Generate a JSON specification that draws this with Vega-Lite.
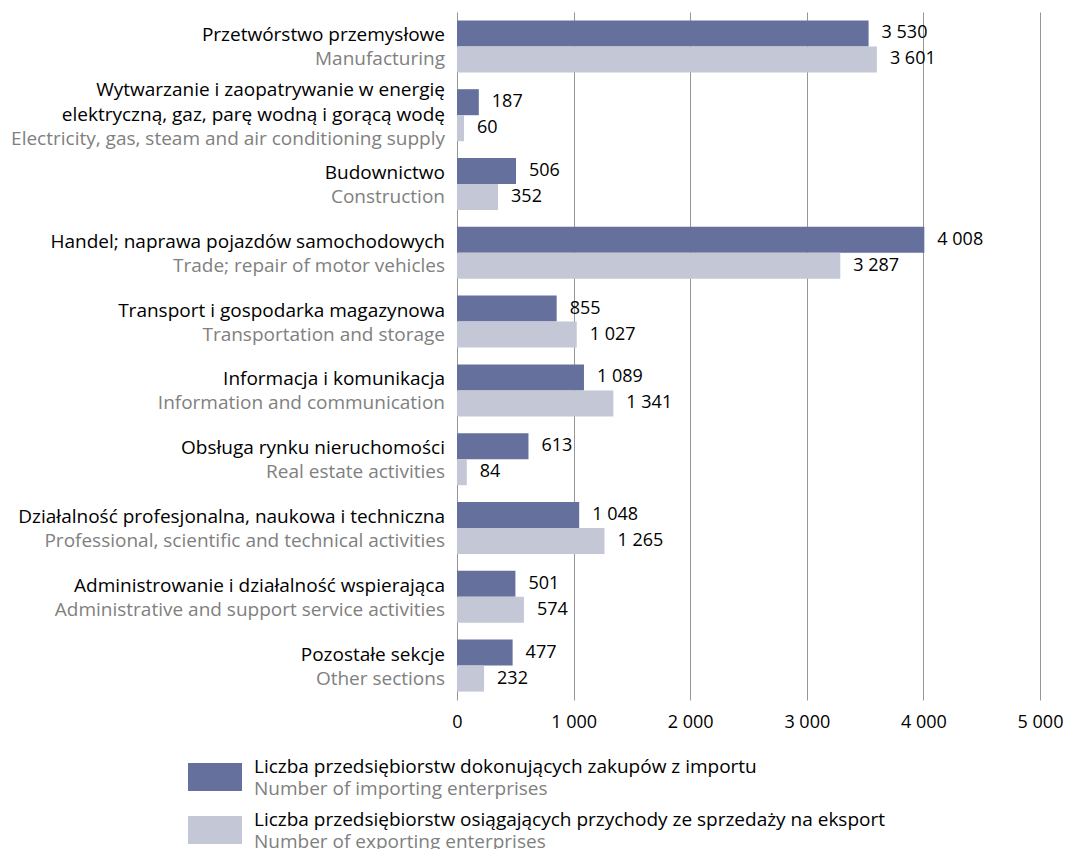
{
  "$schema": "https://vega.github.io/schema/vega-lite/v6.json",
  "width": 583,
  "height": 688,
  "autosize": {"type": "none"},
  "padding": {"left": 457, "top": 12, "right": 27, "bottom": 149},
  "config": {
    "view": {"stroke": null},
    "font": "Open Sans",
    "legend": {"symbolBaseFillColor": "transparent", "symbolBaseStrokeColor": "transparent"},
    "axisX": {
      "grid": true,
      "gridColor": "#969696",
      "domain": false,
      "ticks": false,
      "labelFont": "Open Sans",
      "labelFontSize": 18,
      "labelColor": "#000000",
      "labelPadding": 13,
      "labelFlush": false
    },
    "locale": {"number": {"decimal": ",", "thousands": " ", "grouping": [3], "currency": ["", " zł"]}}
  },
  "data": {
    "values": [
      {"cat": "C", "pl": "Przetwórstwo przemysłowe", "en": "Manufacturing", "series": "Liczba przedsiębiorstw dokonujących zakupów z importu", "series_en": "Number of importing enterprises", "value": 3530},
      {"cat": "C", "pl": "Przetwórstwo przemysłowe", "en": "Manufacturing", "series": "Liczba przedsiębiorstw osiągających przychody ze sprzedaży na eksport", "series_en": "Number of exporting enterprises", "value": 3601},
      {"cat": "D", "pl": "Wytwarzanie i zaopatrywanie w energię\nelektryczną, gaz, parę wodną i gorącą wodę", "en": "Electricity, gas, steam and air conditioning supply", "series": "Liczba przedsiębiorstw dokonujących zakupów z importu", "series_en": "Number of importing enterprises", "value": 187},
      {"cat": "D", "pl": "Wytwarzanie i zaopatrywanie w energię\nelektryczną, gaz, parę wodną i gorącą wodę", "en": "Electricity, gas, steam and air conditioning supply", "series": "Liczba przedsiębiorstw osiągających przychody ze sprzedaży na eksport", "series_en": "Number of exporting enterprises", "value": 60},
      {"cat": "F", "pl": "Budownictwo", "en": "Construction", "series": "Liczba przedsiębiorstw dokonujących zakupów z importu", "series_en": "Number of importing enterprises", "value": 506},
      {"cat": "F", "pl": "Budownictwo", "en": "Construction", "series": "Liczba przedsiębiorstw osiągających przychody ze sprzedaży na eksport", "series_en": "Number of exporting enterprises", "value": 352},
      {"cat": "G", "pl": "Handel; naprawa pojazdów samochodowych", "en": "Trade; repair of motor vehicles", "series": "Liczba przedsiębiorstw dokonujących zakupów z importu", "series_en": "Number of importing enterprises", "value": 4008},
      {"cat": "G", "pl": "Handel; naprawa pojazdów samochodowych", "en": "Trade; repair of motor vehicles", "series": "Liczba przedsiębiorstw osiągających przychody ze sprzedaży na eksport", "series_en": "Number of exporting enterprises", "value": 3287},
      {"cat": "H", "pl": "Transport i gospodarka magazynowa", "en": "Transportation and storage", "series": "Liczba przedsiębiorstw dokonujących zakupów z importu", "series_en": "Number of importing enterprises", "value": 855},
      {"cat": "H", "pl": "Transport i gospodarka magazynowa", "en": "Transportation and storage", "series": "Liczba przedsiębiorstw osiągających przychody ze sprzedaży na eksport", "series_en": "Number of exporting enterprises", "value": 1027},
      {"cat": "J", "pl": "Informacja i komunikacja", "en": "Information and communication", "series": "Liczba przedsiębiorstw dokonujących zakupów z importu", "series_en": "Number of importing enterprises", "value": 1089},
      {"cat": "J", "pl": "Informacja i komunikacja", "en": "Information and communication", "series": "Liczba przedsiębiorstw osiągających przychody ze sprzedaży na eksport", "series_en": "Number of exporting enterprises", "value": 1341},
      {"cat": "L", "pl": "Obsługa rynku nieruchomości", "en": "Real estate activities", "series": "Liczba przedsiębiorstw dokonujących zakupów z importu", "series_en": "Number of importing enterprises", "value": 613},
      {"cat": "L", "pl": "Obsługa rynku nieruchomości", "en": "Real estate activities", "series": "Liczba przedsiębiorstw osiągających przychody ze sprzedaży na eksport", "series_en": "Number of exporting enterprises", "value": 84},
      {"cat": "M", "pl": "Działalność profesjonalna, naukowa i techniczna", "en": "Professional, scientific and technical activities", "series": "Liczba przedsiębiorstw dokonujących zakupów z importu", "series_en": "Number of importing enterprises", "value": 1048},
      {"cat": "M", "pl": "Działalność profesjonalna, naukowa i techniczna", "en": "Professional, scientific and technical activities", "series": "Liczba przedsiębiorstw osiągających przychody ze sprzedaży na eksport", "series_en": "Number of exporting enterprises", "value": 1265},
      {"cat": "N", "pl": "Administrowanie i działalność wspierająca", "en": "Administrative and support service activities", "series": "Liczba przedsiębiorstw dokonujących zakupów z importu", "series_en": "Number of importing enterprises", "value": 501},
      {"cat": "N", "pl": "Administrowanie i działalność wspierająca", "en": "Administrative and support service activities", "series": "Liczba przedsiębiorstw osiągających przychody ze sprzedaży na eksport", "series_en": "Number of exporting enterprises", "value": 574},
      {"cat": "Other", "pl": "Pozostałe sekcje", "en": "Other sections", "series": "Liczba przedsiębiorstw dokonujących zakupów z importu", "series_en": "Number of importing enterprises", "value": 477},
      {"cat": "Other", "pl": "Pozostałe sekcje", "en": "Other sections", "series": "Liczba przedsiębiorstw osiągających przychody ze sprzedaży na eksport", "series_en": "Number of exporting enterprises", "value": 232}
    ]
  },
  "encoding": {
    "y": {
      "field": "cat",
      "type": "nominal",
      "axis": null,
      "scale": {"domain": ["C", "D", "F", "G", "H", "J", "L", "M", "N", "Other"], "paddingInner": 0.244, "paddingOuter": 0.122}
    }
  },
  "layer": [
    {
      "mark": {"type": "bar"},
      "encoding": {
        "x": {
          "field": "value",
          "type": "quantitative",
          "scale": {"domain": [0, 5000]},
          "axis": {"title": null, "values": [0, 1000, 2000, 3000, 4000, 5000], "format": ",d"}
        },
        "yOffset": {"field": "series", "type": "nominal", "scale": {"domain": ["Liczba przedsiębiorstw dokonujących zakupów z importu", "Liczba przedsiębiorstw osiągających przychody ze sprzedaży na eksport"]}},
        "color": {
          "field": "series",
          "type": "nominal",
          "scale": {"domain": ["Liczba przedsiębiorstw dokonujących zakupów z importu", "Liczba przedsiębiorstw osiągających przychody ze sprzedaży na eksport"], "range": ["#65719c", "#c4c7d6"]},
          "legend": {
            "orient": "none",
            "legendX": -269,
            "legendY": 738,
            "title": null,
            "padding": 0,
            "symbolType": "M-1,-0.52H1V0.52H-1Z",
            "symbolSize": 2916,
            "symbolStrokeWidth": 0,
            "labelBaseline": "bottom",
            "labelFont": "Open Sans",
            "labelFontSize": 19,
            "labelColor": "#000000",
            "labelOffset": 12,
            "labelLimit": 0,
            "rowPadding": 11
          }
        },
        "opacity": {
          "field": "series_en",
          "type": "nominal",
          "scale": {"domain": ["Number of importing enterprises", "Number of exporting enterprises"], "range": [1, 1]},
          "legend": {
            "orient": "none",
            "legendX": -269,
            "legendY": 750,
            "title": null,
            "padding": 0,
            "symbolType": "M-1,-0.52H1V0.52H-1Z",
            "symbolSize": 2916,
            "symbolOpacity": 0,
            "symbolStrokeWidth": 0,
            "symbolFillColor": "transparent",
            "labelBaseline": "middle",
            "labelFont": "Open Sans",
            "labelFontSize": 19,
            "labelColor": "#808080",
            "labelOffset": 12,
            "labelLimit": 0,
            "rowPadding": 11
          }
        }
      }
    },
    {
      "mark": {"type": "text", "align": "left", "baseline": "middle", "dx": 13, "fontSize": 18, "font": "Open Sans", "color": "#000000"},
      "encoding": {
        "x": {"field": "value", "type": "quantitative", "axis": {"title": null, "values": [0, 1000, 2000, 3000, 4000, 5000], "format": ",d"}},
        "yOffset": {"field": "series", "type": "nominal", "scale": {"domain": ["Liczba przedsiębiorstw dokonujących zakupów z importu", "Liczba przedsiębiorstw osiągających przychody ze sprzedaży na eksport"]}},
        "text": {"field": "value", "type": "quantitative", "format": ",d"}
      }
    },
    {
      "transform": [{"filter": "datum.series_en == 'Number of importing enterprises' && datum.cat != 'D'"}],
      "mark": {"type": "text", "align": "right", "baseline": "middle", "dx": -12, "dy": -11, "fontSize": 19, "font": "Open Sans", "color": "#000000"},
      "encoding": {
        "x": {"datum": 0, "type": "quantitative", "axis": {"title": null, "values": [0, 1000, 2000, 3000, 4000, 5000], "format": ",d"}},
        "text": {"field": "pl", "type": "nominal"}
      }
    },
    {
      "transform": [{"filter": "datum.series_en == 'Number of importing enterprises' && datum.cat != 'D'"}],
      "mark": {"type": "text", "align": "right", "baseline": "middle", "dx": -12, "dy": 13, "fontSize": 19, "font": "Open Sans", "color": "#808080"},
      "encoding": {
        "x": {"datum": 0, "type": "quantitative", "axis": {"title": null, "values": [0, 1000, 2000, 3000, 4000, 5000], "format": ",d"}},
        "text": {"field": "en", "type": "nominal"}
      }
    },
    {
      "transform": [{"filter": "datum.series_en == 'Number of importing enterprises' && datum.cat == 'D'"}],
      "mark": {"type": "text", "align": "right", "baseline": "middle", "dx": -12, "dy": -25, "fontSize": 19, "font": "Open Sans", "lineBreak": "\n", "lineHeight": 25, "color": "#000000"},
      "encoding": {
        "x": {"datum": 0, "type": "quantitative", "axis": {"title": null, "values": [0, 1000, 2000, 3000, 4000, 5000], "format": ",d"}},
        "text": {"field": "pl", "type": "nominal"}
      }
    },
    {
      "transform": [{"filter": "datum.series_en == 'Number of importing enterprises' && datum.cat == 'D'"}],
      "mark": {"type": "text", "align": "right", "baseline": "middle", "dx": -12, "dy": 24, "fontSize": 19, "font": "Open Sans", "color": "#808080"},
      "encoding": {
        "x": {"datum": 0, "type": "quantitative", "axis": {"title": null, "values": [0, 1000, 2000, 3000, 4000, 5000], "format": ",d"}},
        "text": {"field": "en", "type": "nominal"}
      }
    }
  ]
}
